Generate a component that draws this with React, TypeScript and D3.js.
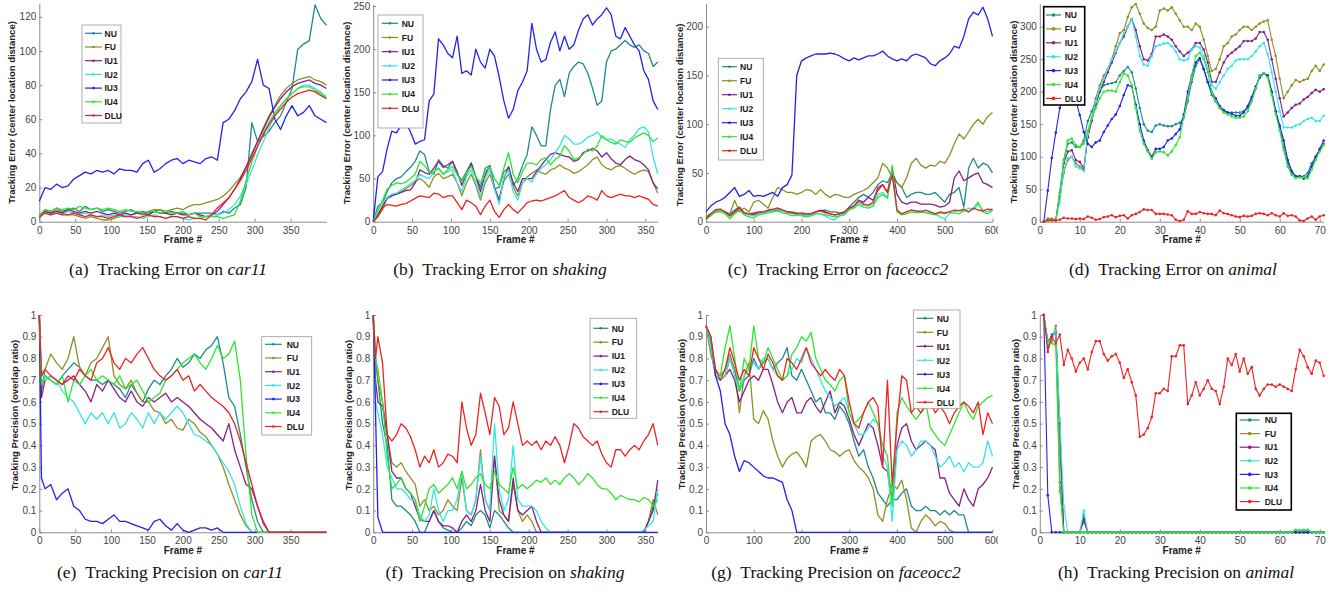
import React, { useEffect, useRef } from "react";
import * as d3 from "d3";

const W = 1338;
const H = 592;

const methods = ["NU", "FU", "IU1", "IU2", "IU3", "IU4", "DLU"];
const methodColors = ["#1f8a8a", "#8f8f24", "#871f87", "#33e6e6", "#2222ee", "#2ee62e", "#ee2222"];

const car11Frames = d3.range(0, 401, 8);
const shakingFrames = d3.range(0, 367, 6);
const faceocc2Frames = d3.range(0, 601, 10);
const animalFrames = d3.range(1, 72);
const car11PrecFrames = [0, 3, ...d3.range(8, 401, 8)];
const shakingPrecFrames = [0, 3, ...d3.range(6, 367, 6)];

// tick labels
const frameTicks350 = [0, 50, 100, 150, 200, 250, 300, 350];
const frameTicks600 = [0, 100, 200, 300, 400, 500, 600];
const frameTicks70 = [0, 10, 20, 30, 40, 50, 60, 70];
const car11ErrTicks = [0, 20, 40, 60, 80, 100, 120];
const shakingErrTicks = [0, 50, 100, 150, 200, 250];
const faceocc2ErrTicks = [0, 50, 100, 150, 200];
const animalErrTicks = [0, 50, 100, 150, 200, 250, 300];
const precTicks = [0, 0.1, 0.2, 0.3, 0.4, 0.5, 0.6, 0.7, 0.8, 0.9, 1];

// (a) tracking error, car11
const car11ErrNU = [2,7,6,8,6,7,8,6,9,7,8,6,7,6,5,6,7,5,6,5,6,7,5,6,5,5,4,5,5,5,5,4,6,5,8,10,20,58,47,50,53,58,62,70,78,101,104,106,127,119,115];
const car11ErrFU = [2,6,5,7,5,4,4,3,2,3,2,1,1,2,3,3,4,5,4,6,7,7,6,7,8,7,9,10,10,11,12,13,15,18,22,26,32,40,47,55,62,68,74,78,81,83,84,85,83,82,80];
const car11ErrIU1 = [3,6,5,6,5,7,6,5,6,5,6,5,4,5,4,5,4,5,5,4,6,5,5,4,5,4,4,5,4,3,4,6,10,14,19,25,32,39,47,54,61,67,72,76,79,81,82,83,81,80,78];
const car11ErrIU2 = [3,5,4,5,4,6,5,4,5,4,3,4,3,4,3,4,3,3,2,3,4,3,2,3,3,2,1,2,2,3,4,4,5,7,10,15,22,30,39,47,55,62,68,72,75,78,80,80,78,76,73];
const car11ErrIU3 = [12,20,19,22,20,21,25,27,29,28,30,29,30,28,31,30,30,29,34,36,29,31,34,36,37,34,36,35,34,37,38,36,58,60,65,72,76,82,95,80,78,60,54,62,68,62,64,68,62,60,58];
const car11ErrIU4 = [4,7,6,8,7,8,7,9,8,7,8,7,8,7,6,7,6,6,5,6,6,5,6,5,5,6,4,5,3,3,3,3,2,3,4,12,24,35,44,52,58,64,68,72,75,78,79,79,77,75,72];
const car11ErrDLU = [3,5,4,5,4,4,5,4,3,4,3,3,2,3,4,3,3,2,3,4,3,3,2,3,3,2,3,2,2,1,4,8,11,14,19,24,30,37,44,51,57,62,66,70,73,75,76,77,76,74,72];

// (b) tracking error, shaking
const shakingErrNU = [0,18,22,35,45,50,52,58,63,70,82,78,58,55,72,65,62,70,55,48,58,68,52,40,62,65,38,40,58,62,42,50,65,78,110,100,88,88,130,158,165,145,172,180,185,183,172,155,135,140,185,198,200,205,210,205,202,205,198,195,180,185];
const shakingErrFU = [0,6,14,28,31,32,35,38,42,46,50,46,40,52,56,50,52,55,45,30,45,55,42,25,45,55,38,25,47,55,40,30,45,52,56,60,57,55,60,62,66,62,60,56,58,62,66,72,75,66,62,60,64,65,62,58,55,58,60,58,45,33];
const shakingErrIU1 = [0,8,18,27,30,32,34,36,37,45,60,57,55,62,70,63,66,70,58,42,55,68,52,35,54,65,40,25,50,64,45,35,50,50,50,58,65,72,78,80,78,76,75,70,72,80,82,85,82,75,80,73,68,66,72,76,72,70,66,60,45,38];
const shakingErrIU2 = [0,14,22,28,32,33,37,40,44,48,55,52,50,58,62,55,58,60,45,35,52,60,45,30,50,60,38,20,52,60,35,25,45,50,46,55,62,66,72,80,88,100,96,90,90,93,98,100,104,98,95,96,92,90,86,95,100,108,110,104,75,55];
const shakingErrIU3 = [0,52,58,85,105,103,112,115,104,90,93,95,140,148,212,205,195,190,215,172,175,170,200,185,178,200,192,168,140,120,130,152,162,175,230,200,185,188,208,220,198,215,200,205,222,235,240,228,235,240,248,240,215,212,225,215,205,198,175,165,140,130];
const shakingErrIU4 = [0,12,25,38,42,45,44,46,50,55,70,65,57,58,62,55,60,64,55,46,56,64,52,45,58,64,50,42,62,80,55,45,58,68,68,66,72,74,66,72,76,88,82,72,74,78,84,82,88,100,95,92,90,95,93,92,97,100,103,100,93,97];
const shakingErrDLU = [0,6,16,20,19,18,20,21,24,27,30,29,28,33,32,28,30,30,22,14,25,22,18,8,18,25,12,5,14,20,14,10,16,22,24,25,24,26,28,30,33,36,28,25,22,25,30,28,25,36,30,28,30,32,30,30,28,30,28,26,20,18];

// (c) tracking error, faceocc2
const faceocc2ErrNU = [5,8,10,12,10,8,12,15,8,8,8,9,10,10,11,12,11,10,10,9,8,8,8,10,11,12,10,10,9,10,15,20,25,28,25,30,38,42,40,50,40,35,25,28,30,30,28,28,30,25,20,28,30,35,15,55,65,55,60,58,50];
const faceocc2ErrFU = [5,8,10,10,10,8,22,10,14,10,20,22,18,14,25,35,33,30,30,28,30,33,32,28,33,28,25,28,27,25,25,28,30,32,35,40,45,60,55,45,40,35,45,60,65,58,55,58,57,62,60,68,80,90,85,92,100,105,100,108,112];
const faceocc2ErrIU1 = [3,8,12,12,10,6,10,15,9,8,7,9,10,11,12,14,12,10,9,8,8,6,8,10,12,10,8,7,8,9,14,16,22,20,25,22,32,38,30,55,28,20,18,20,20,18,18,18,17,15,16,20,45,52,42,45,48,50,40,38,35];
const faceocc2ErrIU2 = [3,7,11,12,9,5,9,14,8,7,6,8,9,10,12,13,11,9,8,8,7,6,7,9,8,6,3,2,6,8,13,15,20,17,16,18,28,30,25,50,12,8,10,12,10,12,10,9,8,5,3,8,10,12,10,14,12,18,12,10,14];
const faceocc2ErrIU3 = [10,16,20,22,25,30,35,26,28,32,26,27,26,28,30,26,35,38,48,150,165,168,170,172,172,172,173,172,170,167,165,168,166,168,170,170,172,175,170,167,165,167,165,170,172,170,168,162,160,165,168,172,180,178,190,208,215,212,220,208,190];
const faceocc2ErrIU4 = [2,6,10,11,8,3,8,12,7,5,4,7,8,9,10,11,9,8,6,7,6,5,6,8,8,7,6,5,6,7,12,14,18,15,14,16,25,28,24,58,10,7,8,10,9,10,9,8,7,9,8,10,9,8,12,10,14,20,10,8,12];
const faceocc2ErrDLU = [3,8,12,13,10,6,10,14,9,8,9,10,10,12,13,14,12,10,9,8,9,8,8,10,11,9,8,7,8,10,14,16,22,18,17,20,35,38,30,48,12,8,10,12,11,10,12,10,8,10,9,10,12,11,13,10,14,12,11,13,12];

// (d) tracking error, animal
const animalErrNU = [0,3,3,2,40,95,120,122,115,115,125,155,170,185,200,210,212,213,215,225,232,238,230,205,175,150,140,138,148,150,148,147,147,150,152,160,185,215,240,250,235,215,195,185,175,170,168,168,168,168,170,175,188,205,225,228,225,200,170,145,115,90,75,70,70,70,75,90,100,110,120];
const animalErrFU = [0,5,5,3,40,75,95,100,90,85,80,130,160,190,210,225,235,250,270,290,295,315,330,335,320,305,298,295,300,325,328,325,330,320,310,300,300,295,305,300,280,255,232,235,250,270,275,285,288,295,300,300,295,300,305,308,310,280,255,220,190,200,210,218,215,218,220,232,240,232,242];
const animalErrIU1 = [0,3,3,2,45,90,108,110,95,92,82,130,155,180,200,215,230,245,260,275,285,300,312,295,270,250,248,258,285,285,288,285,280,270,262,255,260,265,275,275,265,245,215,215,230,245,255,260,265,270,278,278,278,282,292,292,280,250,220,190,162,168,175,180,182,188,192,198,203,200,204];
const animalErrIU2 = [0,3,3,2,30,80,98,100,85,82,78,135,160,185,205,220,235,250,262,275,290,300,312,285,255,242,240,255,270,272,274,275,270,262,250,248,250,265,270,268,255,235,210,205,215,225,235,240,248,250,250,250,255,262,270,275,258,230,200,170,145,145,145,148,150,155,158,160,155,155,163];
const animalErrIU3 = [0,48,98,137,175,195,205,200,187,164,138,120,115,122,125,138,148,158,165,178,195,210,208,180,150,125,110,100,112,112,115,125,128,135,142,165,200,225,245,252,235,215,200,190,178,172,168,166,163,163,168,178,192,208,222,228,225,200,170,148,125,95,78,70,70,66,70,85,100,112,125];
const animalErrIU4 = [0,3,3,2,45,95,125,128,118,115,120,140,160,175,190,200,202,202,200,215,228,225,210,175,140,120,108,97,107,108,107,102,108,118,130,160,190,225,255,260,250,230,200,185,175,168,165,162,160,160,162,170,185,205,225,228,222,195,165,140,110,85,72,67,68,68,67,80,95,108,118];
const animalErrDLU = [0,2,2,2,3,6,5,5,4,5,4,8,6,3,4,7,8,10,7,9,10,5,10,12,15,19,18,18,12,12,12,11,10,3,1,3,16,12,12,15,13,12,12,10,17,13,12,10,8,7,9,8,9,12,13,12,10,13,10,8,13,9,10,8,2,1,5,8,3,8,10];

// (e) tracking precision, car11
const car11PrecNU = [
  1,.68,.72,.7,.68,.72,.75,.78,.76,.72,
  .7,.7,.68,.7,.68,.66,.62,.68,.64,.6,
  .66,.7,.68,.72,.75,.8,.76,.78,.82,.8,
  .84,.86,.9,.78,.62,.58,.45,.3,.15,.05,
  0,0,0,0,0,0,0,0,0,0,
  0,0];
const car11PrecFU = [
  1,.65,.75,.82,.78,.75,.8,.9,.76,.72,
  .78,.8,.85,.9,.72,.68,.66,.7,.64,.6,
  .6,.56,.55,.5,.52,.48,.47,.52,.5,.46,
  .44,.4,.36,.3,.22,.15,.08,.03,0,0,
  0,0,0,0,0,0,0,0,0,0,
  0,0];
const car11PrecIU1 = [
  1,.62,.7,.72,.7,.68,.7,.72,.68,.65,
  .6,.68,.65,.7,.66,.62,.6,.65,.6,.58,
  .62,.6,.62,.64,.6,.62,.6,.58,.55,.52,
  .5,.48,.45,.42,.5,.38,.3,.22,.2,.12,
  .05,0,0,0,0,0,0,0,0,0,
  0,0];
const car11PrecIU2 = [
  1,.75,.7,.72,.7,.65,.62,.6,.55,.5,
  .55,.52,.55,.5,.55,.48,.5,.55,.52,.48,
  .55,.5,.55,.52,.55,.58,.55,.5,.45,.44,
  .42,.4,.36,.32,.28,.22,.12,.04,0,0,
  0,0,0,0,0,0,0,0,0,0,
  0,0];
const car11PrecIU3 = [
  1,.25,.2,.22,.15,.18,.2,.12,.1,.06,
  .05,.05,.04,.06,.08,.05,.05,.04,.03,.02,
  .01,.05,.06,.03,.01,.04,.01,0,.01,.02,
  .02,.01,.02,0,0,0,0,0,0,0,
  0,0,0,0,0,0,0,0,0,0,
  0,0];
const car11PrecIU4 = [
  1,.68,.72,.7,.68,.72,.6,.7,.68,.72,
  .75,.7,.72,.7,.68,.72,.66,.68,.7,.65,
  .6,.62,.64,.7,.72,.75,.78,.8,.82,.78,
  .75,.8,.86,.8,.82,.88,.7,.35,.08,0,
  0,0,0,0,0,0,0,0,0,0,
  0,0];
const car11PrecDLU = [
  1,.72,.75,.72,.7,.68,.72,.7,.75,.72,
  .7,.78,.8,.85,.78,.75,.8,.78,.82,.85,
  .8,.75,.72,.7,.72,.75,.7,.72,.65,.68,
  .65,.62,.6,.58,.55,.5,.42,.32,.22,.12,
  .04,0,0,0,0,0,0,0,0,0,
  0,0];

// (f) tracking precision, shaking
const shakingPrecNU = [
  1,.8,.7,.5,.4,.15,.12,.12,.1,.08,
  .05,0,0,.05,.1,.05,.02,.01,0,0,
  .02,.05,.03,.08,.1,.08,.02,.1,.08,.05,
  .02,0,0,0,0,0,0,0,0,0,
  0,0,0,0,0,0,0,0,0,0,
  0,0,0,0,0,0,0,0,0,0,
  .05,.12,.18];
const shakingPrecFU = [
  1,.8,.7,.6,.45,.32,.3,.32,.28,.25,
  .22,.12,.15,.1,.12,.08,.1,.15,.12,.1,
  .25,.1,.08,.15,.38,.15,.1,.35,.1,.08,
  .05,.22,.1,.05,.08,.05,0,0,0,0,
  0,0,0,0,0,0,0,0,0,0,
  0,0,0,0,0,0,0,0,0,0,
  .05,.15,.08];
const shakingPrecIU1 = [
  1,.7,.6,.58,.45,.28,.25,.25,.2,.18,
  .12,.06,.05,.05,.1,.05,.03,.03,.02,0,
  .05,.08,.05,.1,.22,.1,.05,.35,.15,.08,
  .05,.25,.1,.08,.1,.12,.05,0,0,0,
  0,0,0,0,0,0,0,0,0,0,
  0,0,0,0,0,0,0,0,0,0,
  .05,.1,.24];
const shakingPrecIU2 = [
  1,.6,.55,.45,.3,.25,.2,.2,.18,.15,
  .15,.08,.05,.08,.2,.1,.05,.1,.1,.15,
  .28,.1,.08,.15,.35,.15,.1,.5,.2,.1,
  .15,.4,.15,.12,.12,.12,.1,.05,.02,0,
  0,0,0,0,0,0,0,0,0,0,
  0,0,0,0,0,0,0,0,0,.01,
  .03,.05,.2];
const shakingPrecIU3 = [
  1,.55,.07,0,0,0,0,0,0,0,
  0,0,0,0,0,0,0,0,0,0,
  0,0,0,0,0,0,0,0,0,0,
  0,0,0,0,0,0,0,0,0,0,
  0,0,0,0,0,0,0,0,0,0,
  0,0,0,0,0,0,0,0,0,0,
  0,0,0];
const shakingPrecIU4 = [
  1,.8,.75,.6,.35,.2,.22,.25,.2,.18,
  .15,.05,.12,.2,.22,.18,.2,.22,.25,.2,
  .28,.2,.22,.25,.27,.22,.2,.28,.22,.2,
  .18,.3,.2,.22,.2,.22,.24,.23,.25,.22,
  .24,.22,.25,.27,.25,.22,.24,.27,.25,.22,
  .2,.2,.18,.15,.17,.16,.15,.15,.14,.16,
  .15,.12,.15];
const shakingPrecDLU = [
  1,.8,.9,.78,.45,.42,.45,.5,.48,.44,
  .38,.3,.35,.32,.38,.3,.32,.36,.35,.32,
  .6,.48,.4,.45,.64,.55,.45,.62,.58,.45,
  .48,.6,.5,.4,.42,.4,.42,.38,.42,.4,
  .44,.4,.32,.4,.5,.48,.44,.42,.4,.42,
  .36,.32,.3,.38,.38,.35,.38,.4,.38,.42,
  .45,.5,.4];

// (g) tracking precision, faceocc2
const faceocc2PrecNU = [.95,.88,.72,.7,.72,.8,.75,.65,.7,.72,.8,.75,.78,.8,.75,.78,.8,.85,.72,.7,.75,.7,.65,.6,.62,.55,.55,.52,.58,.55,.5,.42,.35,.38,.3,.25,.18,.15,.12,.15,.15,.18,.2,.12,.1,.1,.12,.1,.1,.08,.1,.08,.1,.08,.08,0,0,0,0,0,0];
const faceocc2PrecFU = [.95,.82,.74,.72,.75,.82,.75,.55,.72,.78,.52,.5,.56,.52,.42,.35,.3,.34,.36,.37,.34,.3,.42,.44,.45,.42,.38,.37,.35,.37,.38,.33,.3,.28,.25,.2,.08,.05,.15,.22,.2,.24,.15,.02,0,.05,.08,.06,.03,.05,.04,.01,0,0,0,0,0,0,0,0,0];
const faceocc2PrecIU1 = [.95,.85,.72,.7,.72,.75,.7,.6,.65,.7,.72,.7,.75,.75,.68,.6,.55,.6,.62,.55,.55,.6,.62,.58,.55,.6,.65,.55,.6,.58,.52,.45,.4,.45,.5,.48,.4,.3,.28,.15,.4,.48,.5,.42,.38,.4,.42,.4,.38,.25,.25,.18,.15,.12,.2,.15,.12,.2,.22,.25,.3];
const faceocc2PrecIU2 = [.95,.85,.72,.7,.72,.8,.72,.65,.72,.75,.78,.75,.8,.8,.75,.72,.7,.72,.75,.8,.78,.85,.8,.75,.7,.65,.62,.58,.6,.62,.55,.5,.45,.45,.48,.52,.5,.35,.3,.05,.38,.42,.4,.35,.38,.42,.42,.4,.35,.3,.32,.35,.3,.32,.28,.32,.3,.3,.32,.42,.35];
const faceocc2PrecIU3 = [
  .95,.9,.72,.65,.5,.45,.35,.28,.33,.32,
  .3,.28,.26,.25,.25,.24,.23,.15,.1,0,
  0,0,0,0,0,0,0,0,0,0,
  0,0,0,0,0,0,0,0,0,0,
  0,0,0,0,0,0,0,0,0,0,
  0,0,0,0,0,0,0,0,0,0,
  0];
const faceocc2PrecIU4 = [.95,.88,.75,.72,.85,.95,.8,.65,.8,.75,.95,.8,.78,.85,.8,.75,.7,.72,.82,.85,.9,.88,.92,.8,.75,.7,.68,.65,.7,.72,.55,.5,.52,.55,.6,.55,.5,.4,.35,.12,.55,.62,.58,.55,.52,.55,.6,.48,.45,.42,.4,.45,.5,.55,.6,.55,.52,.58,.6,.62,.63];
const faceocc2PrecDLU = [.95,.9,.75,.7,.75,.85,.78,.7,.75,.72,.85,.8,.75,.82,.78,.72,.7,.8,.78,.75,.8,.85,.78,.75,.72,.75,.72,.7,.75,.72,.6,.5,.48,.55,.6,.62,.58,.3,.7,.22,.5,.72,.7,.55,.58,.55,.58,.6,.55,.58,.55,.5,.55,.58,.6,.58,.55,.6,.45,.55,.5];

// (h) tracking precision, animal
const animalPrecNU = [
  1,.85,.91,.92,.23,0,0,0,0,0,
  .08,0,0,0,0,0,0,0,0,0,
  0,0,0,0,0,0,0,0,0,0,
  0,0,0,0,0,0,0,0,0,0,
  0,0,0,0,0,0,0,0,0,0,
  0,0,0,0,0,0,0,0,0,0,
  0,0,0,0,0,0,0,0,0,0,
  0];
const animalPrecFU = [
  1,.87,.88,.95,.38,0,0,0,0,0,
  .05,0,0,0,0,0,0,0,0,0,
  0,0,0,0,0,0,0,0,0,0,
  0,0,0,0,0,0,0,0,0,0,
  0,0,0,0,0,0,0,0,0,0,
  0,0,0,0,0,0,0,0,0,0,
  0,0,0,0,0,0,0,0,0,0,
  0];
const animalPrecIU1 = [
  1,.88,.9,.92,.5,0,0,0,0,0,
  .06,0,0,0,0,0,0,0,0,0,
  0,0,0,0,0,0,0,0,0,0,
  0,0,0,0,0,0,0,0,0,0,
  0,0,0,0,0,0,0,0,0,0,
  0,0,0,0,0,0,0,0,0,0,
  0,0,0,0,0,0,0,0,0,0,
  0];
const animalPrecIU2 = [
  1,.87,.89,.93,.52,.12,0,0,0,0,
  .1,0,0,0,0,0,0,0,0,0,
  0,0,0,0,0,0,0,0,0,0,
  0,0,0,0,0,0,0,0,0,0,
  0,0,0,0,0,0,0,0,0,0,
  0,0,0,0,0,0,0,0,0,0,
  0,0,0,.01,.01,.01,.01,0,0,0,
  0];
const animalPrecIU3 = [
  1,.17,0,0,0,0,0,0,0,0,
  0,0,0,0,0,0,0,0,0,0,
  0,0,0,0,0,0,0,0,0,0,
  0,0,0,0,0,0,0,0,0,0,
  0,0,0,0,0,0,0,0,0,0,
  0,0,0,0,0,0,0,0,0,0,
  0,0,0,0,0,0,0,0,0,0,
  0];
const animalPrecIU4 = [
  1,.88,.87,.86,.19,0,0,0,0,0,
  0,0,0,0,0,0,0,0,0,0,
  0,0,0,0,0,0,0,0,0,0,
  0,0,0,0,0,0,0,0,0,0,
  0,0,0,0,0,0,0,0,0,0,
  0,0,0,0,0,0,0,0,0,0,
  0,0,0,.012,.008,.01,.012,0,0,0,
  0];
const animalPrecDLU = [
  1,.83,.9,.87,.91,.77,.84,.8,.74,.78,
  .8,.75,.83,.88,.88,.82,.79,.81,.82,.78,
  .71,.75,.69,.63,.44,.45,.48,.53,.64,.64,
  .66,.65,.81,.81,.86,.86,.59,.63,.69,.63,
  .66,.7,.66,.65,.59,.67,.8,.77,.82,.74,
  .8,.73,.76,.66,.63,.66,.68,.68,.67,.68,
  .67,.66,.65,.75,.84,.81,.76,.73,.79,.78,
  .72];

const sans = "'Liberation Sans', Arial, Helvetica, sans-serif";
const serif = "'Liberation Serif', 'Times New Roman', serif";
const axisColor = "#8c8c8c";
const tickTextColor = "#444";

const errLabel = "Tracking Error (center location distance)";
const precLabel = "Tracking Precision (overlap ratio)";

const panels = [
  { key: "a", frames: car11Frames, series: [car11ErrNU, car11ErrFU, car11ErrIU1, car11ErrIU2, car11ErrIU3, car11ErrIU4, car11ErrDLU],
    x0: 39.3, x1: 326.5, xMax: 400, xTicks: frameTicks350, yb: 221.7, yt: 3.1, yMax: 128, yTicks: car11ErrTicks,
    yLabel: errLabel, ylx: 12, yly: 112.5, cap: "(a)", capText: "Tracking Error on ", capName: "car11", capX: 168, capY: 275,
    legend: { x: 82, y: 25, w: 39, h: 98, y0: 33.3, step: 13.7, lx0: 85, lx1: 102, tx: 104.5, black: false }, markers: false },
  { key: "b", frames: shakingFrames, series: [shakingErrNU, shakingErrFU, shakingErrIU1, shakingErrIU2, shakingErrIU3, shakingErrIU4, shakingErrDLU],
    x0: 373.2, x1: 657.8, xMax: 366, xTicks: frameTicks350, yb: 221.7, yt: 4.3, yMax: 252, yTicks: shakingErrTicks,
    yLabel: errLabel, ylx: 346.7, yly: 113, cap: "(b)", capText: "Tracking Error on ", capName: "shaking", capX: 500, capY: 275,
    legend: { x: 378, y: 15, w: 45, h: 113, y0: 23.3, step: 14.17, lx0: 381.7, lx1: 398, tx: 401.7, black: false }, markers: false },
  { key: "c", frames: faceocc2Frames, series: [faceocc2ErrNU, faceocc2ErrFU, faceocc2ErrIU1, faceocc2ErrIU2, faceocc2ErrIU3, faceocc2ErrIU4, faceocc2ErrDLU],
    x0: 706, x1: 992.5, xMax: 600, xTicks: frameTicks600, yb: 221.7, yt: 3.3, yMax: 224, yTicks: faceocc2ErrTicks,
    yLabel: errLabel, ylx: 680, yly: 115, cap: "(c)", capText: "Tracking Error on ", capName: "faceocc2", capX: 838, capY: 275,
    legend: { x: 718.3, y: 58.3, w: 45, h: 101.7, y0: 66.7, step: 14, lx0: 722, lx1: 737, tx: 740, black: false }, markers: false, clipX: 998 },
  { key: "d", frames: animalFrames, series: [animalErrNU, animalErrFU, animalErrIU1, animalErrIU2, animalErrIU3, animalErrIU4, animalErrDLU],
    x0: 1039.8, x1: 1323.7, xMax: 71, xTicks: frameTicks70, yb: 221.7, yt: 4, yMax: 335, yTicks: animalErrTicks,
    yLabel: errLabel, ylx: 1013.7, yly: 112, cap: "(d)", capText: "Tracking Error on ", capName: "animal", capX: 1173, capY: 275,
    legend: { x: 1043.7, y: 6.7, w: 41, h: 98.3, y0: 15, step: 13.9, lx0: 1046, lx1: 1061, tx: 1064.7, black: true }, markers: true },
  { key: "e", frames: car11PrecFrames, series: [car11PrecNU, car11PrecFU, car11PrecIU1, car11PrecIU2, car11PrecIU3, car11PrecIU4, car11PrecDLU],
    x0: 39.3, x1: 326.5, xMax: 400, xTicks: frameTicks350, yb: 532.3, yt: 315, yMax: 1, yTicks: precTicks,
    yLabel: precLabel, ylx: 15, yly: 415, cap: "(e)", capText: "Tracking Precision on ", capName: "car11", capX: 170, capY: 578,
    legend: { x: 261.7, y: 336.7, w: 50, h: 98.3, y0: 344.3, step: 13.7, lx0: 265, lx1: 281.7, tx: 286.7, black: false }, markers: false },
  { key: "f", frames: shakingPrecFrames, series: [shakingPrecNU, shakingPrecFU, shakingPrecIU1, shakingPrecIU2, shakingPrecIU3, shakingPrecIU4, shakingPrecDLU],
    x0: 373.2, x1: 657.8, xMax: 366, xTicks: frameTicks350, yb: 532.3, yt: 315, yMax: 1, yTicks: precTicks,
    yLabel: precLabel, ylx: 349, yly: 415, cap: "(f)", capText: "Tracking Precision on ", capName: "shaking", capX: 505, capY: 578,
    legend: { x: 590, y: 318.3, w: 46.7, h: 100, y0: 328.3, step: 13.9, lx0: 593.3, lx1: 608.3, tx: 611.7, black: false }, markers: false },
  { key: "g", frames: faceocc2Frames, series: [faceocc2PrecNU, faceocc2PrecFU, faceocc2PrecIU1, faceocc2PrecIU2, faceocc2PrecIU3, faceocc2PrecIU4, faceocc2PrecDLU],
    x0: 706, x1: 992.5, xMax: 600, xTicks: frameTicks600, yb: 532.3, yt: 315, yMax: 1, yTicks: precTicks,
    yLabel: precLabel, ylx: 681.7, yly: 414, cap: "(g)", capText: "Tracking Precision on ", capName: "faceocc2", capX: 836, capY: 578,
    legend: { x: 913.3, y: 310, w: 46.7, h: 98.3, y0: 318.3, step: 14, lx0: 916.7, lx1: 933.3, tx: 936.7, black: false }, markers: false, clipX: 998 },
  { key: "h", frames: animalFrames, series: [animalPrecNU, animalPrecFU, animalPrecIU1, animalPrecIU2, animalPrecIU3, animalPrecIU4, animalPrecDLU],
    x0: 1039.8, x1: 1323.7, xMax: 71, xTicks: frameTicks70, yb: 532.3, yt: 315, yMax: 1, yTicks: precTicks,
    yLabel: precLabel, ylx: 1015.7, yly: 414, cap: "(h)", capText: "Tracking Precision on ", capName: "animal", capX: 1176, capY: 578,
    legend: { x: 1236.3, y: 413.3, w: 55, h: 96.7, y0: 420, step: 13.6, lx0: 1239.7, lx1: 1259.7, tx: 1264.7, black: true }, markers: true },
];

const App = () => {
  const ref = useRef<SVGSVGElement>(null);

  useEffect(() => {
    document.body.style.margin = "0";
    const svg = d3.select(ref.current);
    svg.selectAll("*").remove();
    const defs = svg.append("defs");

    panels.forEach((p: any) => {
      const g = svg.append("g");
      if (p.clipX) {
        defs.append("clipPath").attr("id", `clip-${p.key}`)
          .append("rect").attr("x", 0).attr("y", 0).attr("width", p.clipX).attr("height", H);
        g.attr("clip-path", `url(#clip-${p.key})`);
      }

      const x = d3.scaleLinear().domain([0, p.xMax]).range([p.x0, p.x1]);
      const y = d3.scaleLinear().domain([0, p.yMax]).range([p.yb, p.yt]);

      // axes (Matlab style: ticks pointing inwards)
      const xAxis = g.append("g")
        .attr("transform", `translate(0,${p.yb})`)
        .call(d3.axisBottom(x).tickValues(p.xTicks).tickSizeInner(-3).tickSizeOuter(0).tickPadding(5)
          .tickFormat((d: any) => String(d)));
      const yAxis = g.append("g")
        .attr("transform", `translate(${p.x0},0)`)
        .call(d3.axisLeft(y).tickValues(p.yTicks).tickSizeInner(-3).tickSizeOuter(0).tickPadding(3)
          .tickFormat((d: any) => String(d)));
      [xAxis, yAxis].forEach((ax) => {
        ax.attr("font-family", sans).attr("font-size", 10);
        ax.select(".domain").attr("stroke", axisColor);
        ax.selectAll(".tick line").attr("stroke", axisColor);
        ax.selectAll(".tick text").attr("fill", tickTextColor);
      });

      // series, drawn in legend order so DLU ends on top
      const line = d3.line<[number, number]>()
        .x((d) => x(d[0]))
        .y((d) => y(d[1]));
      p.series.forEach((vals: number[], si: number) => {
        const pts = vals
          .map((v, i) => [p.frames[i], v] as [number, number])
          .filter((d) => d[0] !== undefined);
        g.append("path")
          .datum(pts)
          .attr("d", line)
          .attr("fill", "none")
          .attr("stroke", methodColors[si])
          .attr("stroke-width", p.markers ? 1.1 : 1.3)
          .attr("stroke-linejoin", "round");
        if (p.markers) {
          g.append("g")
            .selectAll("circle")
            .data(pts)
            .join("circle")
            .attr("cx", (d) => x(d[0]))
            .attr("cy", (d) => y(d[1]))
            .attr("r", 1.3)
            .attr("fill", methodColors[si]);
        }
      });

      // legend
      const L = p.legend;
      g.append("rect")
        .attr("x", L.x).attr("y", L.y).attr("width", L.w).attr("height", L.h)
        .attr("fill", "#fff")
        .attr("stroke", L.black ? "#000" : "#9a9a9a")
        .attr("stroke-width", L.black ? 1.6 : 0.8);
      methods.forEach((m, i) => {
        const ly = L.y0 + i * L.step;
        g.append("line")
          .attr("x1", L.lx0).attr("x2", L.lx1).attr("y1", ly).attr("y2", ly)
          .attr("stroke", methodColors[i]).attr("stroke-width", 1.2);
        g.append("circle")
          .attr("cx", (L.lx0 + L.lx1) / 2).attr("cy", ly).attr("r", L.black ? 1.8 : 1.3)
          .attr("fill", methodColors[i]);
        g.append("text")
          .attr("x", L.tx).attr("y", ly + 3.2)
          .text(m)
          .style("font-family", sans)
          .style("font-size", "8.5px")
          .style("font-weight", "bold")
          .style("fill", "#1a1a1a");
      });

      // axis titles
      g.append("text")
        .attr("transform", `translate(${p.ylx},${p.yly}) rotate(-90)`)
        .attr("text-anchor", "middle")
        .attr("dy", "0.35em")
        .text(p.yLabel)
        .style("font-family", sans)
        .style("font-size", "9.5px")
        .style("font-weight", "bold")
        .style("fill", "#222");
      g.append("text")
        .attr("x", (p.x0 + p.x1) / 2)
        .attr("y", p.yb + 21.5)
        .attr("text-anchor", "middle")
        .text("Frame #")
        .style("font-family", sans)
        .style("font-size", "10px")
        .style("font-weight", "bold")
        .style("fill", "#222");

      // caption
      const cap = svg.append("text")
        .attr("x", p.capX)
        .attr("y", p.capY)
        .attr("text-anchor", "middle")
        .style("font-family", serif)
        .style("font-size", "17.5px")
        .style("fill", "#111");
      cap.append("tspan").text(`${p.cap}\u00a0\u00a0${p.capText}`);
      cap.append("tspan").style("font-style", "italic").text(p.capName);
    });
  }, []);

  return (
    <div>
      <svg ref={ref} width={W} height={H} style={{ position: "absolute", left: 0, top: 0, background: "#fff" }} />
    </div>
  );
};

export default App;
